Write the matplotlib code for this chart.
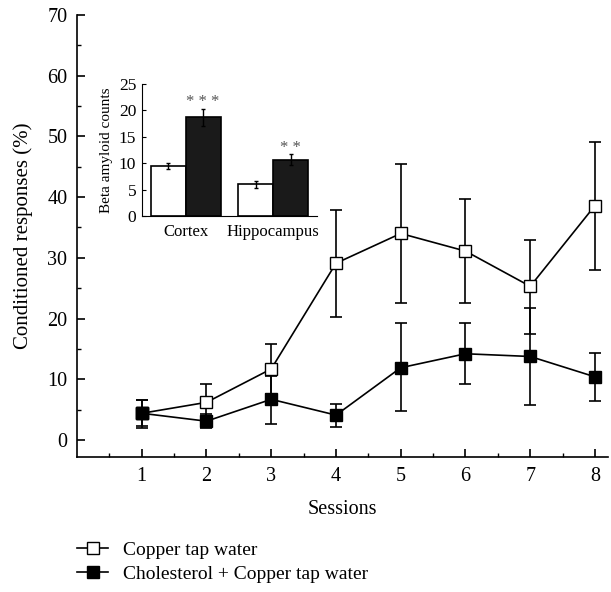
import matplotlib
matplotlib.use("Agg")
import matplotlib.pyplot as plt
from matplotlib.lines import Line2D
import numpy as np

plt.rcParams['font.family'] = ['Liberation Serif', 'DejaVu Serif']

sessions = [1, 2, 3, 4, 5, 6, 7, 8]
copper_mean = [4.4, 6.2, 11.7, 29.1, 34.0, 31.1, 25.3, 38.6]
copper_upper = [6.6, 9.2, 15.8, 37.8, 45.5, 39.6, 32.9, 49.0]
copper_lower = [2.3, 3.2, 7.6, 20.3, 22.5, 22.6, 17.4, 28.0]
chol_mean = [4.4, 3.1, 6.7, 4.1, 11.9, 14.2, 13.75, 10.4]
chol_upper = [6.6, 4.3, 10.6, 5.9, 19.3, 19.3, 21.7, 14.3]
chol_lower = [1.9, 1.9, 2.7, 2.2, 4.7, 9.2, 5.75, 6.35]
series_labels = ['Copper tap water', 'Cholesterol + Copper tap water']

inset_regions = ['Cortex', 'Hippocampus']
inset_copper = [9.5, 6.0]
inset_copper_err = [0.6, 0.6]
inset_chol = [18.7, 10.7]
inset_chol_err = [1.6, 1.0]
inset_stars = ['***', '**']

fig = plt.figure(figsize=(6.11, 5.92), dpi=100)
ax = fig.add_axes([0.126, 0.228, 0.869, 0.747])

x = np.array(sessions)
cm = np.array(copper_mean); hm = np.array(chol_mean)
cerr = [cm - np.array(copper_lower), np.array(copper_upper) - cm]
herr = [hm - np.array(chol_lower), np.array(chol_upper) - hm]

ax.errorbar(x, hm, yerr=herr, color='black', lw=1.2, elinewidth=1.2,
            capsize=4, capthick=1.2, marker='s', markersize=9,
            markerfacecolor='black', markeredgecolor='black', zorder=3)
ax.errorbar(x, cm, yerr=cerr, color='black', lw=1.2, elinewidth=1.2,
            capsize=4, capthick=1.2, marker='s', markersize=9,
            markerfacecolor='white', markeredgecolor='black', zorder=2)
ax.plot(x[:1], hm[:1], 's', ms=9, mfc='black', mec='black', zorder=5)

ax.set_xlim(0, 8.2)
ax.set_ylim(-2.8, 70)
ax.set_xticks(sessions)
ax.set_xticks(np.arange(0.5, 8.2, 1.0), minor=True)
ax.set_yticks(np.arange(0, 71, 10))
ax.set_yticks(np.arange(5, 70, 10), minor=True)
ax.spines['top'].set_visible(False)
ax.spines['right'].set_visible(False)
for s in ['left', 'bottom']:
    ax.spines[s].set_linewidth(1.2)
ax.tick_params(which='major', direction='in', length=6, width=1.2, labelsize=14.5, pad=7)
ax.tick_params(which='minor', direction='in', length=3, width=1.0)
ax.set_xlabel('Sessions', fontsize=14.5, labelpad=10)
ax.set_ylabel('Conditioned responses (%)', fontsize=15, labelpad=10)

h1 = Line2D([], [], color='black', lw=1.2, marker='s', ms=8, mfc='white', mec='black')
h2 = Line2D([], [], color='black', lw=1.2, marker='s', ms=8, mfc='black', mec='black')
fig.legend([h1, h2], series_labels, loc='upper left',
           bbox_to_anchor=(0.126, 0.085), frameon=False,
           fontsize=14, handlelength=1.6, handletextpad=0.75,
           labelspacing=0.3, borderaxespad=0, borderpad=0)

# inset
ia = fig.add_axes([0.232, 0.635, 0.287, 0.223])
ix = np.arange(len(inset_regions))
w = 0.4
ia.bar(ix - w/2, inset_copper, w, yerr=inset_copper_err, color='white',
       edgecolor='black', lw=1.2, error_kw=dict(elinewidth=1.0, capsize=1.5, capthick=1.0))
ia.bar(ix + w/2, inset_chol, w, yerr=inset_chol_err, color='#1a1a1a',
       edgecolor='black', lw=1.2, error_kw=dict(elinewidth=1.0, capsize=1.5, capthick=1.0))
for i, st in enumerate(inset_stars):
    ia.text(ix[i] + w/2, inset_chol[i] + inset_chol_err[i] - 0.3, ' '.join(st),
            ha='center', va='bottom', fontsize=12, color='#555555')
ia.set_xlim(-0.5, 1.5)
ia.set_ylim(0, 25)
ia.set_yticks([0, 5, 10, 15, 20, 25])
ia.set_xticks(ix)
ia.set_xticklabels(inset_regions)
ia.spines['top'].set_visible(False)
ia.spines['right'].set_visible(False)
ia.tick_params(axis='y', direction='in', length=3, labelsize=12.5, pad=4)
ia.tick_params(axis='x', length=0, labelsize=12, pad=6)
ia.set_ylabel('Beta amyloid counts', fontsize=11, labelpad=4)
ia.patch.set_alpha(0)

fig.savefig('out.png', dpi=100)
